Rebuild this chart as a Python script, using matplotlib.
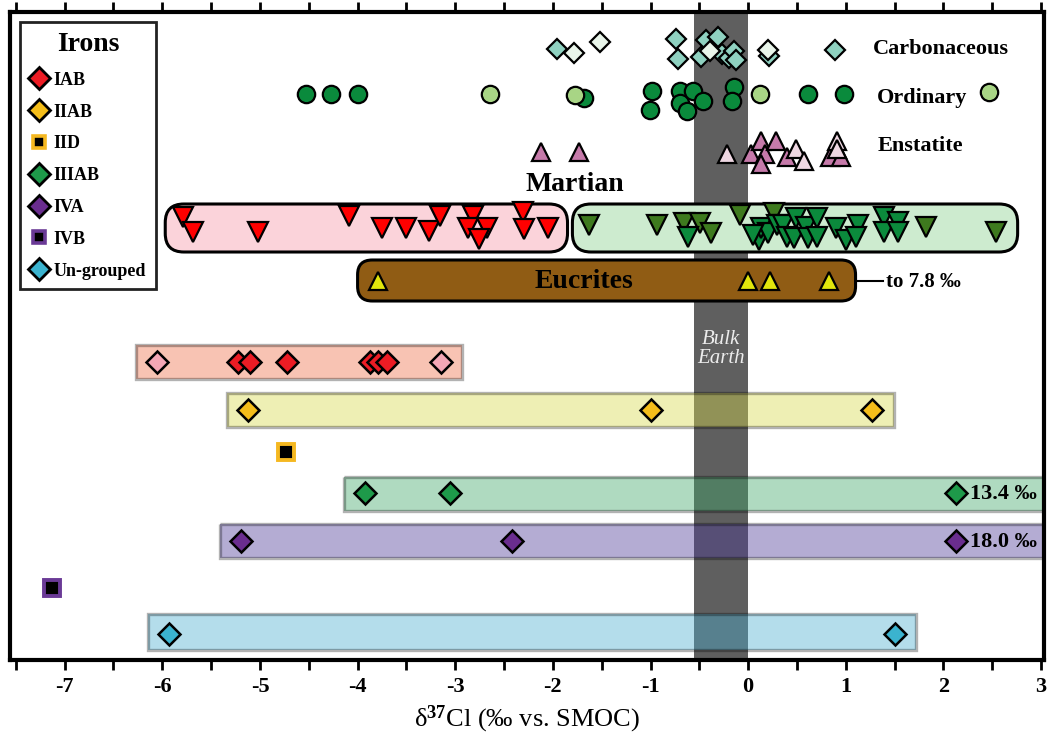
import matplotlib
matplotlib.use("Agg")
import matplotlib.pyplot as plt
from matplotlib.patches import FancyBboxPatch, Rectangle
from matplotlib.lines import Line2D
from matplotlib.ticker import MultipleLocator

plt.rcParams["font.family"] = ["Liberation Serif", "DejaVu Serif"]
plt.rcParams["font.weight"] = "bold"
plt.rcParams["axes.unicode_minus"] = False
plt.rcParams["mathtext.fontset"] = "custom"
plt.rcParams["mathtext.rm"] = "Liberation Serif:bold"
plt.rcParams["mathtext.default"] = "rm"

# ---- chondrites (d37Cl, with vertical stacking level) ----
carb_x = [-1.96, -0.74, -0.72, -0.48, -0.43, -0.31, -0.27, -0.20, -0.14, -0.12, 0.21, 0.89]
carb_lvl = [49, 39, 59, 57, 40, 37, 54, 58, 51, 60, 56, 50]
carb_pale_x = [-1.78, -1.52, -0.39, 0.20]
carb_pale_lvl = [53, 42, 51, 50]

ord_x = [-4.53, -4.27, -4.00, -1.68, -0.98, -1.01, -0.70, -0.70, -0.63, -0.56, -0.46, -0.15, -0.17, 0.61, 0.98]
ord_lvl = [94, 94, 94, 98, 91, 110, 91, 103, 111, 91, 101, 87, 101, 94, 94]
ord_pale_x = [-2.64, -1.77, 0.12, 2.47]
ord_pale_lvl = [94, 95, 94, 92]

ens_x = [-2.12, -1.73, 0.03, 0.13, 0.17, 0.13, 0.29, 0.40, 0.84, 0.95]
ens_lvl = [152, 152, 154, 141, 154, 164, 141, 157, 157, 157]
ens_pale_x = [-0.22, 0.49, 0.57, 0.91, 0.91]
ens_pale_lvl = [154, 149, 161, 141, 149]

# ---- achondrites ----
mars_low_x = [-5.79, -5.69, -5.02, -4.09, -3.75, -3.50, -3.27, -3.16, -2.82, -2.87,
              -2.67, -2.76, -2.31, -2.30, -2.05]
mars_low_lvl = [217, 232, 232, 216, 228, 228, 231, 216, 216, 228, 228, 239, 212, 229, 228]
mars_olive_x = [-1.63, -0.93, -0.66, -0.49, -0.38, -0.08, 0.26, 1.82, 2.54]
mars_olive_lvl = [225, 225, 223, 223, 233, 215, 213, 227, 232]
mars_high_x = [-0.62, 0.11, 0.13, 0.20, 0.05, 0.30, 0.36, 0.40, 0.49, 0.47, 0.59, 0.61,
               0.71, 0.71, 0.90, 1.00, 1.12, 1.10, 1.39, 1.39, 1.53, 1.53]
mars_high_lvl = [237, 240, 228, 233, 235, 225, 225, 237, 218, 238, 227, 238,
                 218, 237, 228, 240, 225, 237, 217, 232, 222, 232]

euc_x = [-3.79, 0.00, 0.22, 0.83]
euc_max = 7.8

# ---- irons ----
iab_x = [-5.22, -5.10, -4.72, -3.87, -3.79, -3.70]
iab_pale_x = [-6.05, -3.15]
iiab_x = [-5.12, -0.99, 1.27]
iid_x = [-4.73]
iiiab_x = [-3.92, -3.05, 13.4]
iva_x = [-5.19, -2.42, 18.0]
ivb_x = [-7.13]
ungr_x = [-5.93, 1.50]

iron_names = ["IAB", "IIAB", "IID", "IIIAB", "IVA", "IVB", "Un-grouped"]

XMIN, XMAX = -7.56, 3.03
CLAMP = 2.13   # where off-scale irons are drawn
PAD = 0.22

fig = plt.figure(figsize=(10.47, 7.47), dpi=100)
ax = fig.add_axes([10 / 1047, 87 / 747, 1034 / 1047, 648 / 747])
ax.set_xlim(XMIN, XMAX)
ax.set_ylim(660, 12)

# pixels per x unit vs per y unit, for round corners
asp = (1034 / (XMAX - XMIN)) / (648 / 648)

# bulk Earth band
ax.axvspan(-0.55, 0.0, color="#5f5f5f", zorder=1, lw=0)
ax.text(-0.275, 349, "Bulk\nEarth", ha="center", va="center", color="#ececec",
        fontsize=15, style="italic", fontweight="normal", linespacing=1.0, zorder=6)

mk = dict(ls="none", mec="black", mew=1.6, zorder=7)

# chondrites
ax.plot(carb_x, carb_lvl, marker="D", ms=10, mfc="#8fd1c0", **mk)
ax.plot(carb_pale_x, carb_pale_lvl, marker="D", ms=10, mfc="#e9f5ea", **mk)
ax.plot(ord_x, ord_lvl, marker="o", ms=12.5, mfc="#0a8a3c", **mk)
ax.plot(ord_pale_x, ord_pale_lvl, marker="o", ms=12.5, mfc="#a8d585", **mk)
ax.plot(ens_x, ens_lvl, marker="^", ms=13, mfc="#c67aaa", **mk)
ax.plot(ens_pale_x, ens_pale_lvl, marker="^", ms=13, mfc="#eed7e2", **mk)

for txt, xx, yy in [("Carbonaceous", 1.28, 49), ("Ordinary", 1.32, 98), ("Enstatite", 1.33, 146)]:
    ax.text(xx, yy, txt, fontsize=16, ha="left", va="center", zorder=8)

# Martian boxes
def rbox(x0, x1, y0, y1, fc, r):
    p = FancyBboxPatch((x0, y0), x1 - x0, y1 - y0,
                       boxstyle=f"round,pad=0,rounding_size={r}",
                       mutation_aspect=asp, fc=fc, ec="black", lw=2.2, zorder=4)
    ax.add_patch(p)

rbox(min(mars_low_x) - 0.18, max(mars_low_x) + 0.2, 204, 252, "#fbd3da", 0.19)
rbox(min(mars_olive_x) - 0.17, max(mars_olive_x) + 0.22, 204, 252, "#cdebcf", 0.19)
ax.plot(mars_low_x, mars_low_lvl, marker="v", ms=14, mfc="#ff0000", **mk)
ax.plot(mars_olive_x, mars_olive_lvl, marker="v", ms=14, mfc="#3e7a1e", **mk)
ax.plot(mars_high_x, mars_high_lvl, marker="v", ms=14, mfc="#0b8a3c", **mk)
ax.text(-1.78, 184, "Martian", fontsize=20, ha="center", va="center", zorder=8)

# Eucrites
euc_x1 = max(euc_x) + 0.27
rbox(min(euc_x) - 0.21, euc_x1, 260, 301, "#905c14", 0.15)
ax.plot(euc_x, [281] * len(euc_x), marker="^", ms=13, mfc="#e2e60c", **mk)
ax.text(-1.68, 281, "Eucrites", fontsize=20, ha="center", va="center", zorder=8)
ax.plot([euc_x1, 1.38], [281, 281], color="black", lw=1.5, zorder=5)
ax.text(1.41, 282, f"to {euc_max:.1f} ‰", fontsize=15, ha="left", va="center", zorder=8)

# iron groups: translucent range bars
def ibar(vals, y0, y1, fc):
    lo = min(vals) - PAD
    hi = max(vals) + PAD
    if hi > XMAX:
        hi = XMAX + 0.5
    ax.add_patch(Rectangle((lo, y0), hi - lo, y1 - y0, fc=fc, alpha=0.42,
                           ec="none", zorder=2))
    ax.add_patch(Rectangle((lo, y0), hi - lo, y1 - y0, fc="none",
                           ec=(0, 0, 0, 0.3), lw=2.4, zorder=2))

def ipts(vals, y, fc, marker="D", ms=11.5, mec="black"):
    xs = [v if v <= XMAX else CLAMP for v in vals]
    ax.plot(xs, [y] * len(xs), marker=marker, ms=ms, mfc=fc, ls="none",
            mec=mec, mew=1.8 if marker == "D" else 2.8, zorder=7)
    for v in vals:
        if v > XMAX:
            ax.text(CLAMP + 0.14, y + 1, f"{v:.1f} ‰", fontsize=16,
                    ha="left", va="center", zorder=8)

ibar(iab_x + iab_pale_x, 345, 379, "#f0714a")
ipts(iab_x, 362, "#ec1c24")
ipts(iab_pale_x, 362, "#f4a7b6")

ibar(iiab_x, 393, 427, "#d7d94d")
ipts(iiab_x, 410, "#f5be1a")

ipts(iid_x, 452, "black", marker="s", ms=11, mec="#f5b820")

ibar(iiiab_x, 477, 511, "#41a76a")
ipts(iiiab_x, 493, "#1e9a4a")

ibar(iva_x, 524, 558, "#4d3998")
ipts(iva_x, 541, "#6a2d8f")

ipts(ivb_x, 588, "black", marker="s", ms=11, mec="#6a3a96")

ibar(ungr_x, 614, 650, "#4db0d0")
ipts(ungr_x, 634, "#3bb3cf")

# legend
iron_face = ["#ec1c24", "#f5be1a", "black", "#1e9a4a", "#6a2d8f", "black", "#3bb3cf"]
iron_edge = ["black", "black", "#f5b820", "black", "black", "#6a3a96", "black"]
iron_mark = ["D", "D", "s", "D", "D", "s", "D"]
handles = []
for nm, fc, ec, m in zip(iron_names, iron_face, iron_edge, iron_mark):
    handles.append(Line2D([], [], ls="none", marker=m, mfc=fc, mec=ec,
                          ms=11 if m == "D" else 9, mew=2 if m == "D" else 2.6,
                          label=nm))
leg = ax.legend(handles=handles, title="Irons", loc="upper left",
                bbox_to_anchor=(10 / 1034, 1 - 10 / 648), borderaxespad=0,
                fancybox=False, edgecolor="#222222", framealpha=1,
                prop={"size": 13, "weight": "bold"},
                title_fontproperties={"size": 20, "weight": "bold"},
                handlelength=1.0, handletextpad=0.3, labelspacing=0.82,
                borderpad=0.55)
leg.get_frame().set_linewidth(2)
leg.set_zorder(10)

# axes styling
for s in ax.spines.values():
    s.set_linewidth(3)
ax.set_yticks([])
ax.xaxis.set_major_locator(MultipleLocator(1))
ax.xaxis.set_minor_locator(MultipleLocator(0.5))
ax.tick_params(axis="x", which="both", direction="out", length=7, width=2,
               top=True, labelsize=16, pad=5)
for lab in ax.get_xticklabels():
    lab.set_fontweight("bold")
ax.set_xlabel(r"δ$^{37}$Cl (‰ vs. SMOC)", fontsize=19, labelpad=5)

fig.savefig("out.png", dpi=100)
